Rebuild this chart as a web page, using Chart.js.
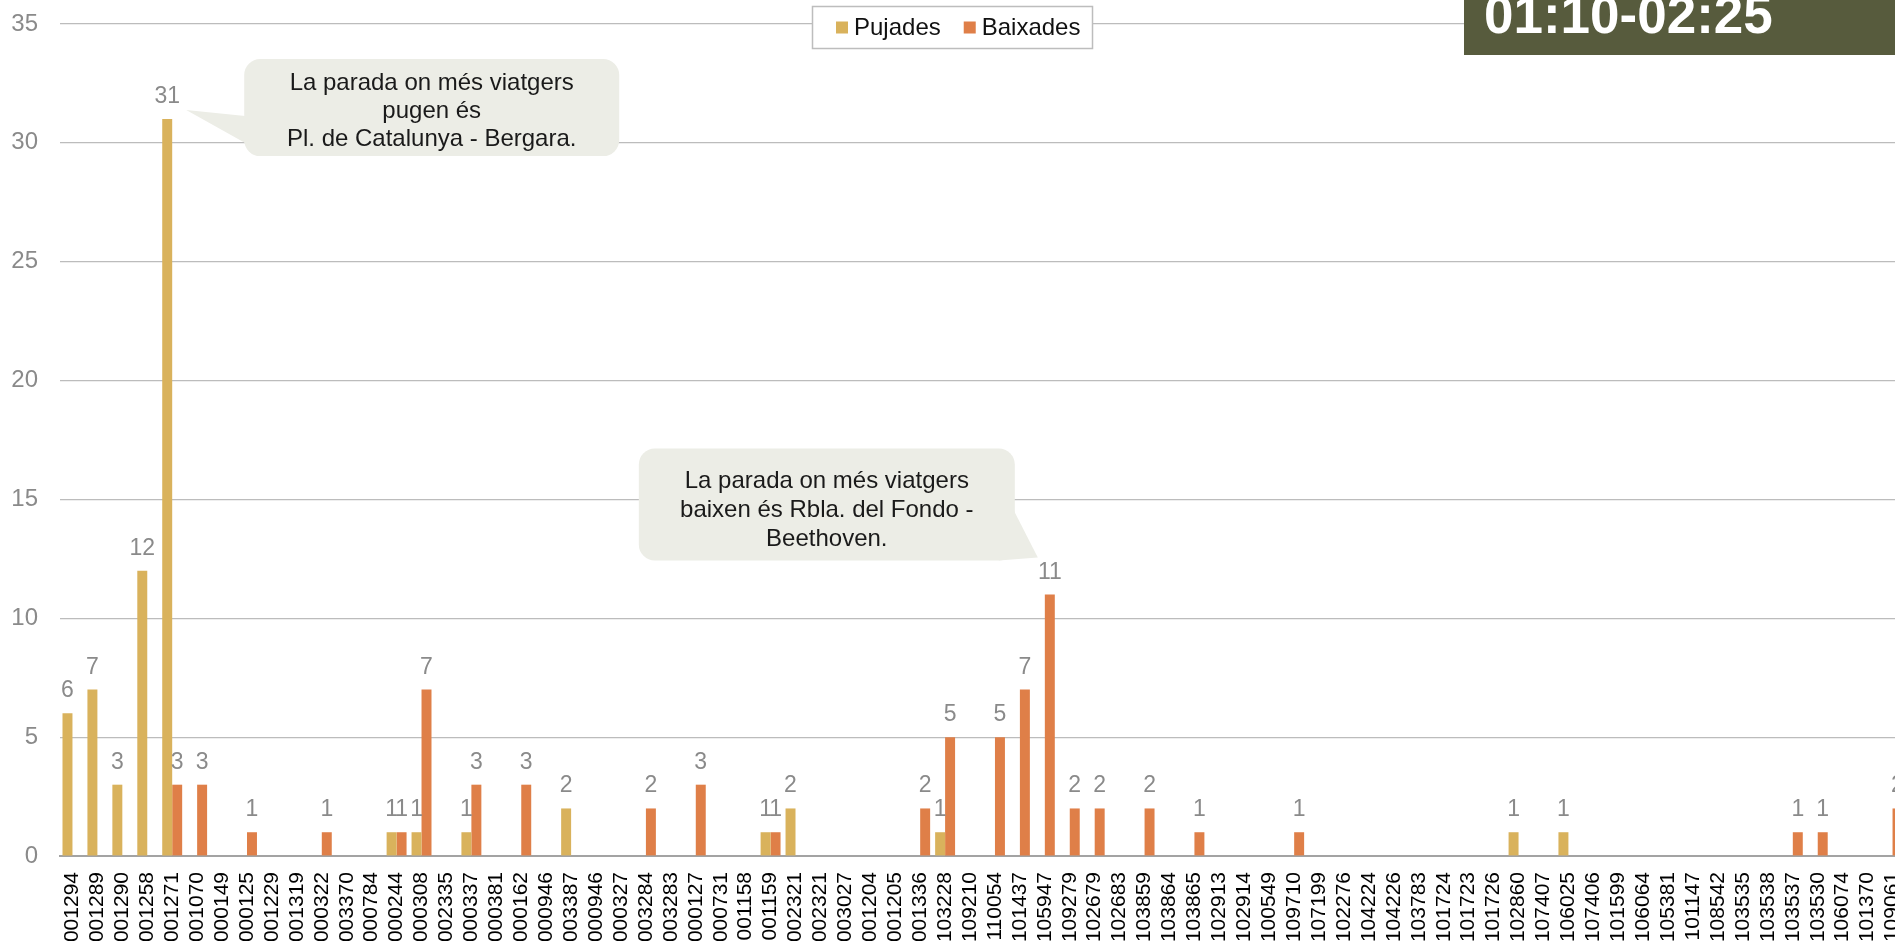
<!DOCTYPE html>
<html>
<head>
<meta charset="utf-8">
<script src="https://cdn.jsdelivr.net/npm/chart.js@4.4.1/dist/chart.umd.min.js"></script>
<style>
  html, body { margin: 0; padding: 0; background: #fff; overflow: hidden; }
  #wrap { position: relative; width: 1895px; height: 941px; overflow: hidden; }
  #chart { position: absolute; left: 0; top: 0; }
</style>
</head>
<body>
<div id="wrap"><canvas id="chart" width="1960" height="1000"></canvas></div>
<script>
const FONT = '"Liberation Sans", Arial, sans-serif';

const period = '01:10-02:25';
const seriesNames = ['Pujades', 'Baixades'];
const seriesColors = ['#d9b25c', '#df7f48'];

const stops = [
  '001294','001289','001290','001258','001271','001070','000149','000125','001229','001319',
  '000322','003370','000784','000244','000308','002335','000337','000381','000162','000946',
  '003387','000946','000327','003284','003283','000127','000731','001158','001159','002321',
  '002321','003027','001204','001205','001336','103228','109210','110054','101437','105947',
  '109279','102679','102683','103859','103864','103865','102913','102914','100549','109710',
  '107199','102276','104224','104226','103783','101724','101723','101726','102860','107407',
  '106025','107406','101599','106064','105381','101147','108542','103535','103538','103537',
  '103530','106074','101370','109061'
];

const pujades = [
  6, 7, 3, 12, 31, 0, 0, 0, 0, 0,
  0, 0, 0, 1, 1, 0, 1, 0, 0, 0,
  2, 0, 0, 0, 0, 0, 0, 0, 1, 2,
  0, 0, 0, 0, 0, 1, 0, 0, 0, 0,
  0, 0, 0, 0, 0, 0, 0, 0, 0, 0,
  0, 0, 0, 0, 0, 0, 0, 0, 1, 0,
  1, 0, 0, 0, 0, 0, 0, 0, 0, 0,
  0, 0, 0, 0
];

const baixades = [
  0, 0, 0, 0, 3, 3, 0, 1, 0, 0,
  1, 0, 0, 1, 7, 0, 3, 0, 3, 0,
  0, 0, 0, 2, 0, 3, 0, 0, 1, 0,
  0, 0, 0, 0, 2, 5, 0, 5, 7, 11,
  2, 2, 0, 2, 0, 1, 0, 0, 0, 1,
  0, 0, 0, 0, 0, 0, 0, 0, 0, 0,
  0, 0, 0, 0, 0, 0, 0, 0, 0, 1,
  1, 0, 0, 2
];

const yMax = 35;
const yStep = 5;

const noteUp = ['La parada on més viatgers', 'pugen és', 'Pl. de Catalunya - Bergara.'];
const noteDown = ['La parada on més viatgers', 'baixen és Rbla. del Fondo -', 'Beethoven.'];

// value labels above each non-zero bar
const valueLabels = {
  id: 'valueLabels',
  afterDatasetsDraw(chart){
    const ctx = chart.ctx;
    ctx.save();
    ctx.font = '23px ' + FONT;
    ctx.fillStyle = '#8a8a8a';
    ctx.textAlign = 'center';
    ctx.textBaseline = 'alphabetic';
    chart.data.datasets.forEach((ds, i) => {
      chart.getDatasetMeta(i).data.forEach((bar, j) => {
        if(ds.data[j] > 0) ctx.fillText(String(ds.data[j]), bar.x, bar.y - 16);
      });
    });
    ctx.restore();
  }
};

function roundRect(ctx, x, y, w, h, r){
  ctx.beginPath();
  ctx.moveTo(x + r, y);
  ctx.arcTo(x + w, y, x + w, y + h, r);
  ctx.arcTo(x + w, y + h, x, y + h, r);
  ctx.arcTo(x, y + h, x, y, r);
  ctx.arcTo(x, y, x + w, y, r);
  ctx.closePath();
}

function callout(ctx, box, tri, lines, baseOffsets){
  ctx.fillStyle = '#ecede6';
  roundRect(ctx, box.x, box.y, box.w, box.h, 16);
  ctx.fill();
  ctx.beginPath();
  ctx.moveTo(tri[0][0], tri[0][1]);
  ctx.lineTo(tri[1][0], tri[1][1]);
  ctx.lineTo(tri[2][0], tri[2][1]);
  ctx.closePath();
  ctx.fill();
  ctx.fillStyle = '#1a1a1a';
  ctx.font = '24px ' + FONT;
  ctx.textAlign = 'center';
  ctx.textBaseline = 'alphabetic';
  lines.forEach((t, k) => ctx.fillText(t, box.x + box.w / 2, box.y + baseOffsets[k]));
}

const overlays = {
  id: 'overlays',
  afterDraw(chart){
    const ctx = chart.ctx;
    ctx.save();

    // callouts anchored to the highest bars
    const iUp = pujades.indexOf(Math.max(...pujades));
    const b1 = chart.getDatasetMeta(0).data[iUp];
    callout(ctx,
      { x: b1.x + 77, y: b1.y - 60, w: 375, h: 97 },
      [[b1.x + 78, b1.y - 3], [b1.x + 19, b1.y - 9], [b1.x + 78, b1.y + 24]],
      noteUp, [31, 59, 87]);

    const iDown = baixades.indexOf(Math.max(...baixades));
    const b2 = chart.getDatasetMeta(1).data[iDown];
    const bx = b2.x - 411, by = b2.y - 146;
    callout(ctx,
      { x: bx, y: by, w: 376, h: 112 },
      [[bx + 375, by + 62], [b2.x - 12, b2.y - 37], [bx + 360, by + 112]],
      noteDown, [39, 68, 97]);

    // legend
    const lx = 812, ly = 6, lw = 281, lh = 43;
    ctx.fillStyle = '#fff';
    ctx.fillRect(lx, ly, lw, lh);
    ctx.strokeStyle = '#bdbdbd';
    ctx.lineWidth = 1.5;
    ctx.strokeRect(lx + 0.5, ly + 0.5, lw - 1, lh - 1);
    ctx.font = '24px ' + FONT;
    ctx.textAlign = 'left';
    ctx.textBaseline = 'middle';
    let cx = lx + 24;
    const cy = ly + lh / 2;
    chart.data.datasets.forEach(ds => {
      ctx.fillStyle = ds.backgroundColor;
      ctx.fillRect(cx, cy - 6, 12, 12);
      cx += 18;
      ctx.fillStyle = '#111';
      ctx.fillText(ds.label, cx, cy + 1);
      cx += ctx.measureText(ds.label).width + 23;
    });

    // period badge
    ctx.fillStyle = '#575b3d';
    ctx.fillRect(1464, 0, 500, 55);
    ctx.fillStyle = '#fff';
    ctx.font = 'bold 53px ' + FONT;
    ctx.textBaseline = 'alphabetic';
    ctx.fillText(period, 1484, 33);

    ctx.restore();
  }
};

new Chart(document.getElementById('chart'), {
  type: 'bar',
  data: {
    labels: stops,
    datasets: [
      { label: seriesNames[0], data: pujades, backgroundColor: seriesColors[0] },
      { label: seriesNames[1], data: baixades, backgroundColor: seriesColors[1] }
    ]
  },
  options: {
    responsive: false,
    animation: false,
    devicePixelRatio: 1,
    layout: { padding: { top: 24, right: 55, left: 0, bottom: 0 } },
    datasets: { bar: { categoryPercentage: 0.8, barPercentage: 1.0, borderWidth: 0 } },
    plugins: { legend: { display: false }, tooltip: { enabled: false }, title: { display: false } },
    scales: {
      x: {
        grid: { display: false, drawTicks: false },
        border: { display: true, color: '#a3a3a3', width: 2 },
        ticks: {
          autoSkip: false, maxRotation: 90, minRotation: 90, padding: 16,
          color: '#000', font: { family: FONT, size: 21 }
        },
        afterFit(axis){ axis.height = 144; }
      },
      y: {
        min: 0, max: yMax,
        grid: { color: '#bcbcbc', lineWidth: 1.2, drawTicks: true, tickLength: 22, tickColor: 'rgba(0,0,0,0)' },
        border: { display: false },
        ticks: { stepSize: yStep, padding: 0, color: '#8a8a8a', font: { family: FONT, size: 24 } },
        afterFit(axis){ axis.width = 60; }
      }
    }
  },
  plugins: [valueLabels, overlays]
});
</script>
</body>
</html>
